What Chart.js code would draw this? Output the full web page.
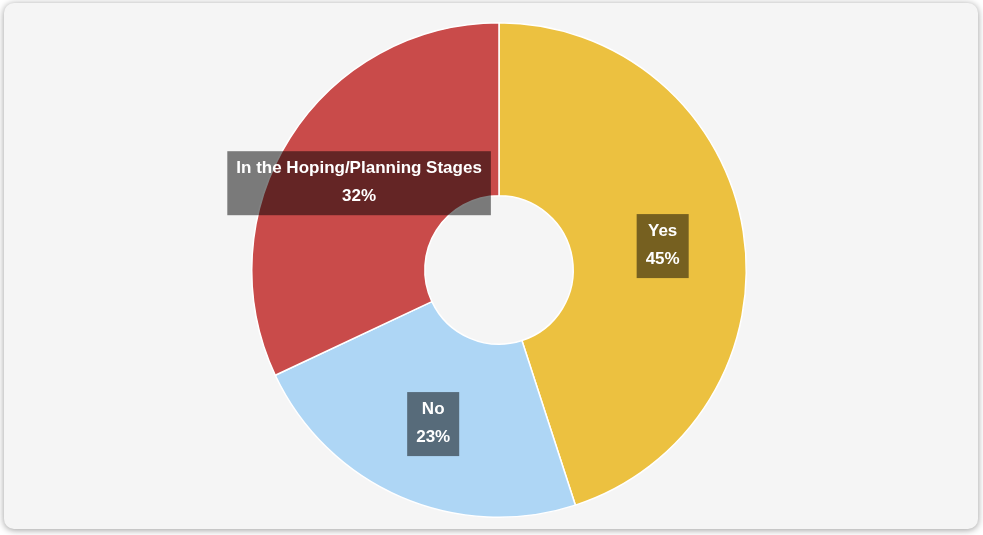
<!DOCTYPE html>
<html>
<head>
<meta charset="utf-8">
<script src="https://cdn.jsdelivr.net/npm/chart.js@4.4.1/dist/chart.umd.min.js"></script>
<style>
  html, body { margin: 0; padding: 0; background: #ffffff; }
  #card {
    position: absolute; left: 4px; top: 3px; width: 974px; height: 526px;
    background: #f5f5f5; border-radius: 10px;
    box-shadow: 0 1px 7px rgba(0, 0, 0, 0.4);
  }
  #pie { position: absolute; left: 0; top: 0; }
</style>
</head>
<body>
<div id="card"></div>
<canvas id="pie" width="983" height="535"></canvas>
<script>
var labels = ["Yes", "No", "In the Hoping/Planning Stages"];
var values = [45, 23, 32];
var colors = ["#ecc140", "#aed6f5", "#c94b4a"];

// draw the always-on labels over each slice
var sliceLabels = {
    id: "sliceLabels",
    afterDatasetsDraw: function (chart) {
        var ctx = chart.ctx;
        var meta = chart.getDatasetMeta(0);
        var total = values.reduce(function (a, b) { return a + b; }, 0);
        ctx.save();
        ctx.font = "bold 17px 'Liberation Sans', Arial, sans-serif";
        ctx.textAlign = "center";
        ctx.textBaseline = "middle";
        meta.data.forEach(function (arc, i) {
            var mid = (arc.startAngle + arc.endAngle) / 2;
            var r = (arc.innerRadius + arc.outerRadius) / 2 + 5;
            var x = arc.x + Math.cos(mid) * r;
            var y = arc.y + Math.sin(mid) * r + 2;
            var line1 = labels[i];
            var line2 = Math.round(values[i] / total * 100) + "%";
            var w = Math.max(ctx.measureText(line1).width, ctx.measureText(line2).width) + 18;
            var h = 64;
            ctx.fillStyle = "rgba(0, 0, 0, 0.5)";
            ctx.fillRect(x - w / 2, y - h / 2, w, h);
            ctx.fillStyle = "#ffffff";
            ctx.fillText(line1, x, y - 15);
            ctx.fillText(line2, x, y + 13);
        });
        ctx.restore();
    }
};

new Chart(document.getElementById("pie").getContext("2d"), {
    type: "doughnut",
    data: {
        labels: labels,
        datasets: [{
            data: values,
            backgroundColor: colors,
            borderColor: "#ffffff",
            borderWidth: 1.5
        }]
    },
    options: {
        responsive: false,
        animation: false,
        cutout: "30%",
        layout: { padding: { top: 22, bottom: 17, left: 15, right: 0 } },
        plugins: {
            legend: { display: false },
            tooltip: { enabled: false }
        }
    },
    plugins: [sliceLabels]
});
</script>
</body>
</html>
